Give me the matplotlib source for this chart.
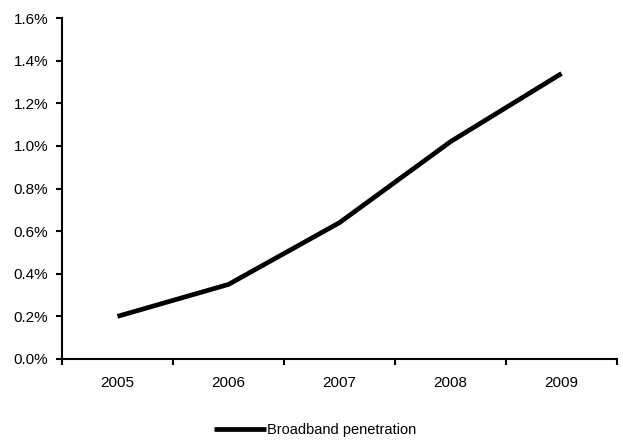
import numpy as np
import matplotlib.pyplot as plt
from matplotlib.ticker import FuncFormatter, FixedLocator

plt.rcParams['font.family'] = ['Liberation Sans', 'DejaVu Sans']

years = ['2005', '2006', '2007', '2008', '2009']
penetration = [0.20, 0.35, 0.64, 1.02, 1.34]  # percent

fig = plt.figure(figsize=(6.23, 4.41), dpi=100)
ax = fig.add_axes([0.0995, 0.186, 0.8910, 0.773])

x = np.arange(len(years))
ax.plot(x, penetration, color='black', lw=3.4, solid_capstyle='butt',
        label='Broadband penetration')

ax.set_xlim(-0.5, len(years) - 0.5)
ax.set_ylim(0, 1.6)
ax.set_yticks(np.arange(0, 1.61, 0.2))
ax.yaxis.set_major_formatter(FuncFormatter(lambda v, p: f'{v:.1f}%'))

# category labels centred, tick marks on the boundaries
ax.set_xticks(x)
ax.set_xticklabels(years)
ax.tick_params(axis='x', which='major', length=0, pad=12)
ax.xaxis.set_minor_locator(FixedLocator(np.arange(-0.5, len(years), 1.0)))
ax.tick_params(axis='x', which='minor', length=4, width=1.5, direction='out')
ax.tick_params(axis='y', length=4, width=1.5, direction='out', pad=6)
ax.tick_params(labelsize=11)

for s in ['top', 'right']:
    ax.spines[s].set_visible(False)
for s in ['left', 'bottom']:
    ax.spines[s].set_linewidth(1.5)

fig.legend(loc='center', bbox_to_anchor=(0.506, 0.025), frameon=False,
           fontsize=10.5, handlelength=3.6, handletextpad=0.05)

fig.savefig('out.png', dpi=100)
